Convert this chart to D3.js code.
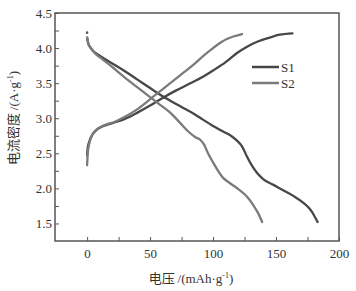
<!DOCTYPE html>
<html>
<head>
<meta charset="utf-8">
<script src="https://cdn.jsdelivr.net/npm/d3@7"></script>
<style>
  body { margin: 0; background: #fff; }
  text { font-family: "Liberation Serif", "Times New Roman", serif; fill: #333; }
  .cjk { font-family: "Noto Sans CJK SC", sans-serif; }
</style>
</head>
<body>
<div id="chart"></div>
<script>
// S1 (dark) charge / discharge
const s1Charge = [
  [0, 2.47], [0.5, 2.58], [2, 2.68], [4, 2.76], [8, 2.84], [13, 2.89], [20, 2.93],
  [30, 2.99], [40, 3.08], [50, 3.18], [60, 3.29], [70, 3.39], [80, 3.48], [92, 3.59],
  [100, 3.68], [110, 3.8], [119, 3.93], [127, 4.02], [135, 4.09], [145, 4.15],
  [153, 4.19], [163, 4.21]
];
const s1Discharge = [
  [0, 4.15], [1, 4.06], [3, 4.0], [6, 3.94], [10, 3.89], [20, 3.78], [30, 3.67],
  [40, 3.55], [50, 3.43], [63, 3.28], [75, 3.16], [85, 3.06], [92, 2.98], [100, 2.89],
  [108, 2.81], [115, 2.74], [119, 2.68], [123, 2.6], [127, 2.45], [131, 2.32],
  [135, 2.22], [140, 2.13], [148, 2.05], [156, 1.97], [164, 1.89], [172, 1.79],
  [178, 1.68], [183, 1.52]
];
// S2 (light) charge / discharge
const s2Charge = [
  [0, 2.33], [0.5, 2.5], [1.5, 2.62], [3, 2.72], [6, 2.81], [10, 2.87], [15, 2.91],
  [22, 2.95], [30, 3.02], [40, 3.13], [54, 3.33], [66, 3.5], [75, 3.63], [85, 3.77],
  [93, 3.9], [100, 4.0], [106, 4.08], [111, 4.13], [117, 4.17], [123, 4.2]
];
const s2Discharge = [
  [0, 4.15], [1, 4.06], [3, 4.0], [6, 3.93], [10, 3.87], [20, 3.73], [30, 3.58],
  [40, 3.44], [50, 3.3], [58, 3.19], [66, 3.08], [74, 2.93], [81, 2.8], [86, 2.73],
  [90, 2.69], [93, 2.62], [96, 2.5], [100, 2.37], [104, 2.25], [108, 2.15],
  [113, 2.08], [120, 1.99], [127, 1.88], [132, 1.76], [136, 1.64], [139, 1.52]
];
const s2Start = [[0, 4.22]];

const xTicks = [0, 50, 100, 150, 200];
const yTicks = [1.5, 2.0, 2.5, 3.0, 3.5, 4.0, 4.5];
const seriesNames = ["S1", "S2"];

const width = 356, height = 291;
const margin = { top: 13, right: 17, bottom: 50, left: 55 };
const colors = { S1: "#474747", S2: "#7b7b7b" };

const svg = d3.select("#chart").append("svg")
  .attr("width", width)
  .attr("height", height);

const x = d3.scaleLinear()
  .domain([-25.5, 200])
  .range([margin.left, width - margin.right]);

const y = d3.scaleLinear()
  .domain([1.25, 4.5])
  .range([height - margin.bottom, margin.top]);

const line = d3.line()
  .x(d => x(d[0]))
  .y(d => y(d[1]))
  .curve(d3.curveMonotoneX);

// curves
[[s1Charge, "S1"], [s1Discharge, "S1"], [s2Charge, "S2"], [s2Discharge, "S2"]].forEach(([data, name]) => {
  svg.append("path")
    .datum(data)
    .attr("fill", "none")
    .attr("stroke", colors[name])
    .attr("stroke-width", 2.3)
    .attr("stroke-linecap", "round")
    .attr("d", line);
});

svg.selectAll(".dot")
  .data(s2Start)
  .enter().append("circle")
  .attr("cx", d => x(d[0]))
  .attr("cy", d => y(d[1]))
  .attr("r", 1.3)
  .attr("fill", "#555");

// X axis (ticks inside)
const xAxis = svg.append("g")
  .attr("transform", `translate(0,${height - margin.bottom})`)
  .call(d3.axisBottom(x).tickValues(d3.range(0, 201, 25)).tickSize(-4)
    .tickFormat(d => xTicks.includes(d) ? d : ""));
xAxis.selectAll("text").attr("dy", null).attr("y", 17).style("font-size", "13px");

// Y axis (ticks inside)
const yAxis = svg.append("g")
  .attr("transform", `translate(${margin.left},0)`)
  .call(d3.axisLeft(y).tickValues(d3.range(6, 19).map(v => v / 4)).tickSize(-4)
    .tickFormat(d => yTicks.includes(d) ? d.toFixed(1) : ""));
yAxis.selectAll("text").attr("x", -3).style("font-size", "13px");

[xAxis, yAxis].forEach(g => {
  g.select(".domain").remove();
  g.selectAll("line").attr("stroke", "#555");
});

// frame
svg.append("rect")
  .attr("x", margin.left)
  .attr("y", margin.top)
  .attr("width", width - margin.left - margin.right)
  .attr("height", height - margin.top - margin.bottom)
  .attr("fill", "none")
  .attr("stroke", "#555")
  .attr("stroke-width", 1.5);

// legend
seriesNames.forEach((name, i) => {
  const ly = 67 + i * 16;
  svg.append("line")
    .attr("x1", 252).attr("x2", 279)
    .attr("y1", ly).attr("y2", ly)
    .attr("stroke", colors[name])
    .attr("stroke-width", 2.5);
  svg.append("text")
    .attr("x", 281).attr("y", ly + 4.5)
    .style("font-size", "13px")
    .text(name);
});

// axis titles
const xt = svg.append("text")
  .attr("x", 191).attr("y", 283)
  .attr("text-anchor", "middle")
  .style("font-size", "13px");
xt.append("tspan").attr("class", "cjk").text("电压\u00a0");
xt.append("tspan").text("/(mAh·g");
xt.append("tspan").attr("dy", -5).style("font-size", "8px").text("-1");
xt.append("tspan").attr("dy", 5).text(")");

const yt = svg.append("text")
  .attr("transform", "rotate(-90)")
  .attr("x", -118).attr("y", 18)
  .attr("text-anchor", "middle")
  .style("font-size", "13px");
yt.append("tspan").attr("class", "cjk").text("电流密度\u00a0");
yt.append("tspan").text("/(A·g");
yt.append("tspan").attr("dy", -5).style("font-size", "8px").text("-1");
yt.append("tspan").attr("dy", 5).text(")");
</script>
</body>
</html>
